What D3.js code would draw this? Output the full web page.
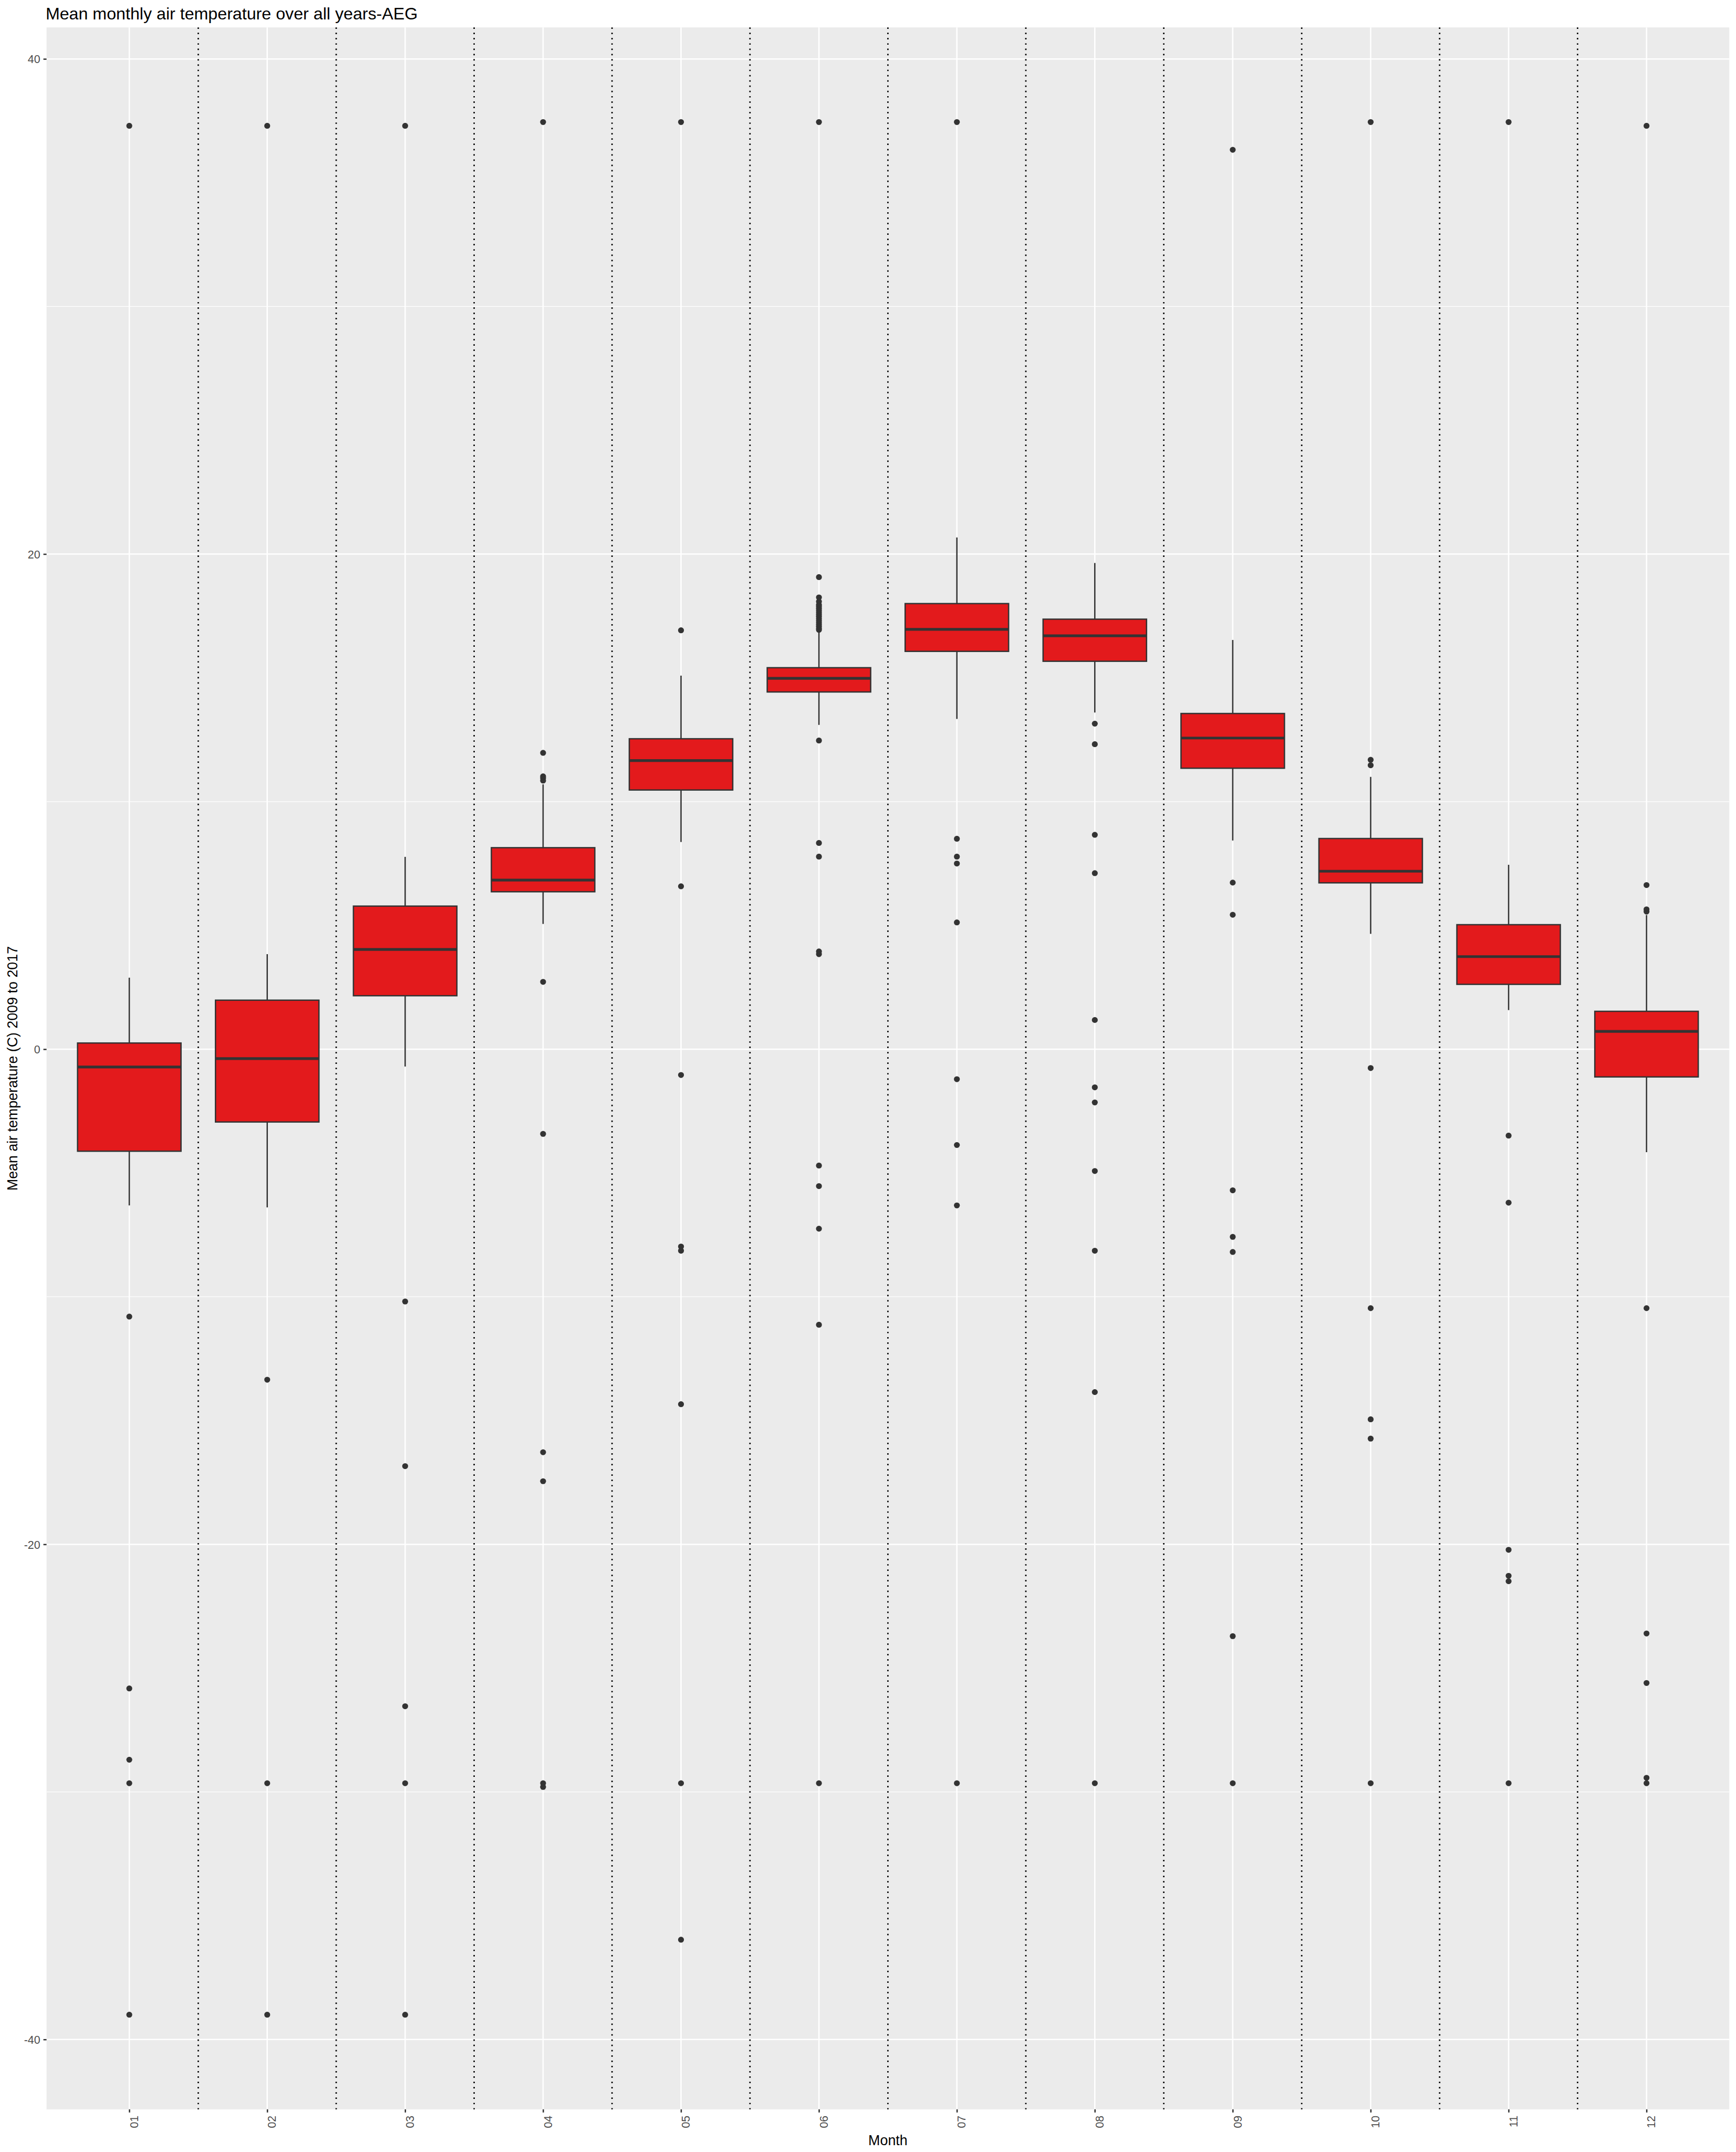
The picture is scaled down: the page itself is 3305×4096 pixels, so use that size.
<!DOCTYPE html>
<html>
<head>
<meta charset="utf-8">
<script src="https://cdn.jsdelivr.net/npm/d3@7"></script>
<style>
  html, body { margin: 0; padding: 0; background: #ffffff; }
  svg { display: block; }
  text { font-family: "Liberation Sans", Arial, Helvetica, sans-serif; }
</style>
</head>
<body>
<svg id="chart"></svg>
<script>
// ---------------- data ----------------
const months = ["01","02","03","04","05","06","07","08","09","10","11","12"];
const whiskerLow  = [-6.31, -6.39, -0.70, 5.06,  8.37, 13.10, 13.34, 13.60,  8.43, 4.66, 1.58, -4.16];
const q1          = [-4.12, -2.94,  2.16, 6.36, 10.47, 14.43, 16.07, 15.67, 11.35, 6.72, 2.62, -1.12];
const medians     = [-0.72, -0.38,  4.03, 6.83, 11.66, 14.98, 16.96, 16.70, 12.57, 7.19, 3.74,  0.72];
const q3          = [ 0.25,  1.98,  5.78, 8.14, 12.54, 15.41, 18.00, 17.37, 13.56, 8.51, 5.03,  1.53];
const whiskerHigh = [ 2.89,  3.84,  7.77, 10.70, 15.09, 16.88, 20.67, 19.64, 16.53, 11.00, 7.45, 5.42];
const outliers = [
  [37.30, -10.80, -25.82, -28.70, -29.65, -39.00],
  [37.30, -13.35, -29.65, -39.00],
  [37.30, -10.19, -16.84, -26.54, -29.65, -39.00],
  [37.45, 11.97, 11.02, 10.95, 10.85, 2.72, -3.42, -16.28, -17.45, -29.65, -29.80],
  [37.45, 16.92, 6.58, -1.04, -7.97, -8.14, -14.34, -29.65, -35.97],
  [37.45, 19.07, 18.25, 18.08, 17.95, 17.88, 17.80, 17.72, 17.64, 17.56, 17.48, 17.40, 17.32, 17.24, 17.16, 17.08, 17.00, 16.94,
   12.47, 8.33, 7.78, 3.95, 3.84, -4.70, -5.53, -7.25, -11.13, -29.65],
  [37.45, 8.50, 7.78, 7.50, 5.12, -1.21, -3.87, -6.31, -29.65],
  [13.15, 12.32, 8.66, 7.11, 1.18, -1.54, -2.15, -4.92, -8.14, -13.85, -29.65],
  [36.33, 6.73, 5.43, -5.70, -7.58, -8.19, -23.71, -29.65],
  [37.45, 11.69, 11.47, -0.76, -10.46, -14.95, -15.73, -29.65],
  [37.45, -3.49, -6.20, -20.22, -21.27, -21.49, -29.65],
  [37.30, 6.63, 5.65, 5.56, -10.46, -23.60, -25.60, -29.43, -29.65]
];
const yMajorTicks = [-40, -20, 0, 20, 40];
const yMinorTicks = [-30, -10, 10, 30];
const titleText = "Mean monthly air temperature over all years-AEG";
const xTitle = "Month";
const yTitle = "Mean air temperature (C) 2009 to 2017";

// ---------------- layout (reference pixel space, scaled by viewBox) ----------------
const W = 3880, H = 4808;
const panel = { left: 104, right: 3865, top: 61, bottom: 4713 };

const svg = d3.select("#chart")
  .attr("width", 3305).attr("height", 4096)
  .attr("viewBox", `0 0 ${W} ${H}`);

svg.append("rect").attr("width", W).attr("height", H).attr("fill", "#ffffff");

// scales
const allVals = outliers.flat().concat(whiskerLow, whiskerHigh);
const dMin = d3.min(allVals), dMax = d3.max(allVals);
const pad = (dMax - dMin) * 0.05;
const y = d3.scaleLinear().domain([dMin - pad, dMax + pad]).range([panel.bottom, panel.top]);
const x = d3.scalePoint().domain(months).range([panel.left, panel.right]).padding(0.6);
const step = x.step();

// panel background
svg.append("rect")
  .attr("x", panel.left).attr("y", panel.top)
  .attr("width", panel.right - panel.left).attr("height", panel.bottom - panel.top)
  .attr("fill", "#EBEBEB");

const grid = svg.append("g");
grid.selectAll("line.minor").data(yMinorTicks).join("line")
  .attr("x1", panel.left).attr("x2", panel.right)
  .attr("y1", d => y(d)).attr("y2", d => y(d))
  .attr("stroke", "#ffffff").attr("stroke-width", 1.5);
grid.selectAll("line.majorY").data(yMajorTicks).join("line")
  .attr("x1", panel.left).attr("x2", panel.right)
  .attr("y1", d => y(d)).attr("y2", d => y(d))
  .attr("stroke", "#ffffff").attr("stroke-width", 3);
grid.selectAll("line.majorX").data(months).join("line")
  .attr("x1", d => x(d)).attr("x2", d => x(d))
  .attr("y1", panel.top).attr("y2", panel.bottom)
  .attr("stroke", "#ffffff").attr("stroke-width", 3);

// boxplots
const boxW = step * 0.75;
const boxes = svg.append("g").selectAll("g.box").data(months).join("g");
boxes.append("line")
  .attr("x1", d => x(d)).attr("x2", d => x(d))
  .attr("y1", (d,i) => y(q3[i])).attr("y2", (d,i) => y(whiskerHigh[i]))
  .attr("stroke", "#333333").attr("stroke-width", 3);
boxes.append("line")
  .attr("x1", d => x(d)).attr("x2", d => x(d))
  .attr("y1", (d,i) => y(q1[i])).attr("y2", (d,i) => y(whiskerLow[i]))
  .attr("stroke", "#333333").attr("stroke-width", 3);
boxes.append("rect")
  .attr("x", d => x(d) - boxW / 2).attr("width", boxW)
  .attr("y", (d,i) => y(q3[i])).attr("height", (d,i) => y(q1[i]) - y(q3[i]))
  .attr("fill", "#E31A1C").attr("stroke", "#333333").attr("stroke-width", 3);
boxes.append("line")
  .attr("x1", d => x(d) - boxW / 2).attr("x2", d => x(d) + boxW / 2)
  .attr("y1", (d,i) => y(medians[i])).attr("y2", (d,i) => y(medians[i]))
  .attr("stroke", "#333333").attr("stroke-width", 6);
boxes.each(function(d, i) {
  d3.select(this).selectAll("circle").data(outliers[i]).join("circle")
    .attr("cx", x(d)).attr("cy", v => y(v)).attr("r", 6.6)
    .attr("fill", "#333333");
});

// dotted separators between months
const seps = months.slice(0, -1).map(m => x(m) + step / 2);
svg.append("g").selectAll("line").data(seps).join("line")
  .attr("x1", d => d).attr("x2", d => d)
  .attr("y1", panel.top).attr("y2", panel.bottom)
  .attr("stroke", "#000000").attr("stroke-width", 3.2)
  .attr("stroke-dasharray", "3.2 8.6");

// axes
const yAxis = svg.append("g").attr("transform", `translate(${panel.left},0)`)
  .call(d3.axisLeft(y).tickValues(yMajorTicks).tickSize(7).tickPadding(7).tickFormat(d => String(d)));
yAxis.select(".domain").remove();
yAxis.selectAll(".tick line").attr("stroke", "#333333").attr("stroke-width", 3);
yAxis.selectAll(".tick text")
  .attr("fill", "#4D4D4D").attr("font-size", 25.2)
  .attr("font-family", "Liberation Sans, Arial, sans-serif")
  .attr("dy", "0.36em");

const xAxis = svg.append("g").attr("transform", `translate(0,${panel.bottom})`)
  .call(d3.axisBottom(x).tickSize(7));
xAxis.select(".domain").remove();
xAxis.selectAll(".tick line").attr("stroke", "#333333").attr("stroke-width", 3);
xAxis.selectAll(".tick text")
  .attr("fill", "#4D4D4D").attr("font-size", 25.2)
  .attr("font-family", "Liberation Sans, Arial, sans-serif")
  .attr("transform", "rotate(-90)")
  .attr("text-anchor", "end")
  .attr("x", -14).attr("y", 19).attr("dy", 0);

// titles
svg.append("text")
  .attr("x", 102).attr("y", 43)
  .attr("font-size", 37.8).attr("fill", "#000000")
  .text(titleText);

svg.append("text")
  .attr("x", (panel.left + panel.right) / 2).attr("y", 4793)
  .attr("text-anchor", "middle")
  .attr("font-size", 31.5).attr("fill", "#000000")
  .text(xTitle);

svg.append("text")
  .attr("transform", `translate(39,${(panel.top + panel.bottom) / 2}) rotate(-90)`)
  .attr("text-anchor", "middle")
  .attr("font-size", 31.5).attr("fill", "#000000")
  .text(yTitle);
</script>
</body>
</html>
